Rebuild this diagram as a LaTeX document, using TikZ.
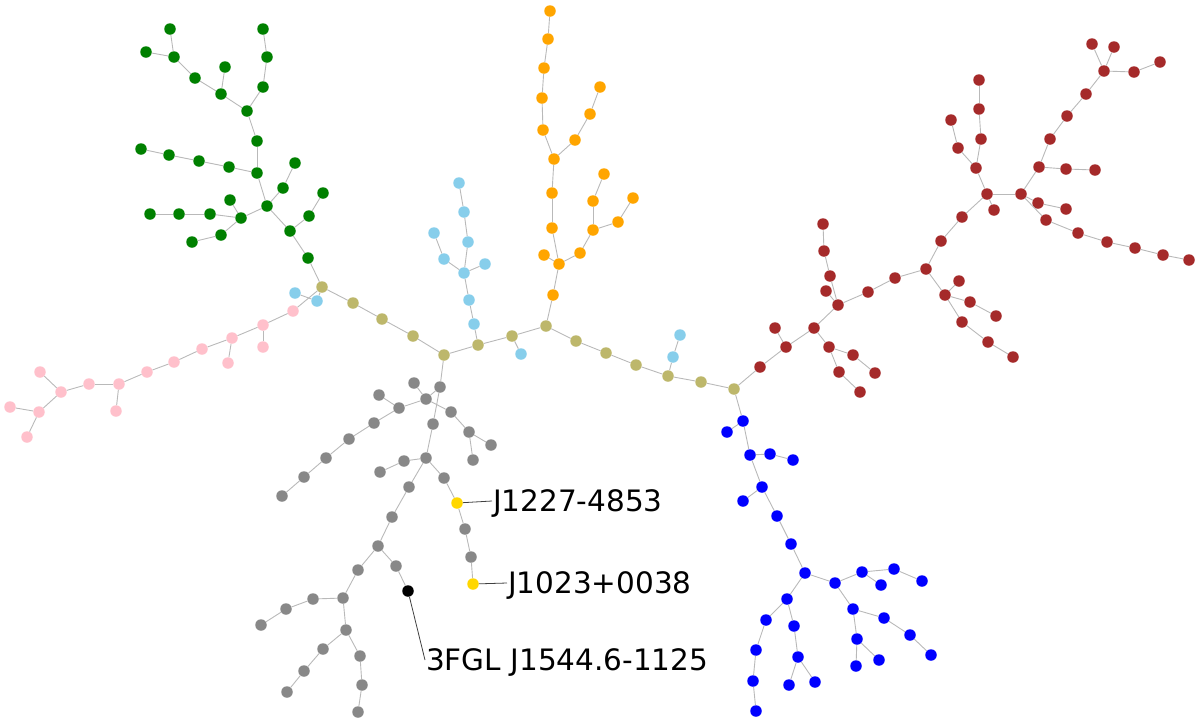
\documentclass[tikz,border=0pt]{standalone}
\usepackage{fontspec}
\setmainfont{DejaVu Sans}
\definecolor{cgreen}{RGB}{0,128,0}
\definecolor{corange}{RGB}{255,165,0}
\definecolor{cblue}{RGB}{0,0,255}
\definecolor{cbrown}{RGB}{165,42,42}
\definecolor{csky}{RGB}{135,206,235}
\definecolor{ckhaki}{RGB}{189,183,107}
\definecolor{cpink}{RGB}{255,192,203}
\definecolor{cgray}{RGB}{136,136,136}
\definecolor{cgold}{RGB}{255,215,0}
\definecolor{cedge}{RGB}{185,185,185}
\tikzset{
  vtx/.style={circle,inner sep=0pt,minimum size=11.5pt,draw=none},
  G/.style={vtx,fill=cgreen}, O/.style={vtx,fill=corange}, B/.style={vtx,fill=cblue},
  R/.style={vtx,fill=cbrown}, L/.style={vtx,fill=csky}, K/.style={vtx,fill=ckhaki},
  P/.style={vtx,fill=cpink}, A/.style={vtx,fill=cgray}, Y/.style={vtx,fill=cgold},
  X/.style={vtx,fill=black},
  edge/.style={draw=cedge,line width=0.9pt},
  lab/.style={anchor=west,inner sep=1pt,text height=21pt,text depth=0pt,font=\fontsize{29.5}{34}\selectfont},
  labline/.style={draw=black!75,line width=0.8pt}
}
\begin{document}
\begin{tikzpicture}[x=1pt,y=-1pt]
\useasboundingbox (0,0) rectangle (1200,724);
% green
\foreach \n/\x/\y in {g1/170/29,g2/146/52,g3/174/57,g4/263/29,g5/267/57,g6/195/78,g7/225/67,g8/221/94,g9/263/87,g10/247/111,g11/257/141,g12/141/149,g13/169/155,g14/199/161,g15/229/167,g16/257/173,g17/295/163,g18/283/188,g19/267/206,g20/230/200,g21/241/218,g22/150/214,g23/179/214,g24/210/214,g25/221/235,g26/192/242,g27/290/231,g28/323/193,g29/309/216,g30/308/258}
  \node[G] (\n) at (\x,\y) {};
% olive
\foreach \n/\x/\y in {k1/322/287,k2/353/303,k3/382/319,k4/413/336,k5/444/355,k6/478/345,k7/512/336,k8/546/326,k9/576/341,k10/606/353,k11/636/365,k12/668/376,k13/701/382,k14/734/389}
  \node[K] (\n) at (\x,\y) {};
% light blue
\foreach \n/\x/\y in {l1/459/183,l2/464/212,l3/468/242,l4/434/233,l5/444/259,l6/464/273,l7/485/264,l8/469/300,l9/474/324,l10/521/354,l11/673/357,l12/680/335,l13/317/301,l14/295/293}
  \node[L] (\n) at (\x,\y) {};
% orange
\foreach \n/\x/\y in {o1/550/11,o2/548/39,o3/544/68,o4/542/98,o5/543/130,o6/554/159,o7/575/140,o8/590/114,o9/600/87,o10/552/193,o11/552/228,o12/604/174,o13/593/201,o14/593/230,o15/580/253,o16/559/264,o17/544/255,o18/553/295,o19/633/198,o20/618/222}
  \node[O] (\n) at (\x,\y) {};
% pink
\foreach \n/\x/\y in {p1/293/311,p2/263/325,p3/263/347,p4/232/338,p5/228/363,p6/202/349,p7/174/362,p8/147/372,p9/119/384,p10/116/411,p11/89/384,p12/61/392,p13/40/372,p14/39/412,p15/10/407,p16/27/437}
  \node[P] (\n) at (\x,\y) {};
% gray
\foreach \n/\x/\y in {a1/440/387,a2/414/383,a3/426/399,a4/379/395,a5/399/408,a6/451/412,a7/374/423,a8/469/432,a9/491/445,a10/473/460,a11/349/439,a12/433/424,a13/326/458,a14/304/477,a15/282/496,a16/426/458,a17/404/461,a18/380/472,a19/444/478,a20/409/487,a21/392/517,a22/378/546,a23/396/566,a24/358/570,a25/343/598,a26/313/599,a27/286/609,a28/261/625,a29/346/630,a30/323/649,a31/304/671,a32/287/692,a33/360/656,a34/362/685,a35/358/712,a36/465/529,a37/471/557}
  \node[A] (\n) at (\x,\y) {};
\node[Y] (y1) at (457,503) {};
\node[Y] (y2) at (473,584) {};
\node[X] (b1) at (408,591) {};
% red
\foreach \n/\x/\y in {r1/760/367,r2/786/347,r3/775/328,r4/814/328,r5/838/305,r6/826/291,r7/830/276,r8/824/251,r9/823/224,r10/868/292,r11/895/278,r12/829/347,r13/853/355,r14/875/373,r15/839/372,r16/860/392,r17/926/269,r18/941/241,r19/945/295,r20/959/281,r21/970/302,r22/996/316,r23/962/322,r24/988/342,r25/1013/357,r26/962/217,r27/987/194,r28/994/210,r29/976/168,r30/981/139,r31/979/109,r32/979/80,r33/958/148,r34/951/120,r35/1021/194,r36/1039/167,r37/1066/169,r38/1095/170,r39/1050/139,r40/1067/116,r41/1086/94,r42/1104/71,r43/1092/44,r44/1114/47,r45/1134/72,r46/1160/62,r47/1038/203,r48/1066/209,r49/1046/220,r50/1078/233,r51/1107/242,r52/1135/248,r53/1163/255,r54/1189/260}
  \node[R] (\n) at (\x,\y) {};
% blue
\foreach \n/\x/\y in {u1/743/421,u2/727/432,u3/750/455,u4/770/454,u5/793/460,u6/762/487,u7/743/501,u8/777/516,u9/791/544,u10/805/573,u11/835/583,u12/862/572,u13/881/585,u14/894/569,u15/922/581,u16/787/599,u17/766/620,u18/794/626,u19/756/650,u20/798/657,u21/753/681,u22/789/685,u23/815/682,u24/756/711,u25/853/609,u26/884/618,u27/910/635,u28/931/655,u29/857/639,u30/879/660,u31/856/666}
  \node[B] (\n) at (\x,\y) {};
% edges
\foreach \s/\t in {g1/g3,g2/g3,g3/g6,g6/g8,g7/g8,g8/g10,g4/g5,g5/g9,g9/g10,g10/g11,g11/g16,g12/g13,g13/g14,g14/g15,g15/g16,g16/g19,g19/g18,g18/g17,g19/g21,g20/g21,g22/g23,g23/g24,g24/g21,g21/g25,g25/g26,g19/g27,g27/g29,g29/g28,g27/g30,g30/k1,
 k1/k2,k2/k3,k3/k4,k4/k5,k5/k6,k6/k7,k7/k8,k8/k9,k9/k10,k10/k11,k11/k12,k12/k13,k13/k14,
 l1/l2,l2/l3,l3/l6,l4/l5,l5/l6,l6/l7,l6/l8,l8/l9,l9/k6,k7/l10,k12/l11,l11/l12,k1/l13,l13/l14,
 o1/o2,o2/o3,o3/o4,o4/o5,o5/o6,o6/o7,o7/o8,o8/o9,o6/o10,o10/o11,o11/o16,o17/o16,o16/o18,o18/k8,o12/o13,o13/o14,o14/o15,o15/o16,o19/o20,o20/o14,
 k1/p1,p1/p2,p2/p3,p2/p4,p4/p5,p4/p6,p6/p7,p7/p8,p8/p9,p9/p10,p9/p11,p11/p12,p12/p13,p12/p14,p14/p15,p14/p16,
 k5/a1,a1/a3,a2/a3,a3/a6,a6/a8,a8/a9,a8/a10,a3/a5,a4/a5,a5/a7,a7/a11,a11/a13,a13/a14,a14/a15,a1/a12,a12/a16,a16/a17,a17/a18,a16/a19,a19/y1,y1/a36,a36/a37,a37/y2,a16/a20,a20/a21,a21/a22,a22/a23,a23/b1,a22/a24,a24/a25,a25/a26,a26/a27,a27/a28,a25/a29,a29/a30,a30/a31,a31/a32,a29/a33,a33/a34,a34/a35,
 k14/r1,r1/r2,r2/r3,r2/r4,r4/r5,r5/r6,r5/r7,r7/r8,r8/r9,r4/r12,r12/r13,r13/r14,r12/r15,r15/r16,r5/r10,r10/r11,r11/r17,r17/r18,r17/r19,r19/r20,r19/r21,r21/r22,r19/r23,r23/r24,r24/r25,r18/r26,r26/r27,r27/r28,r27/r29,r29/r30,r30/r31,r31/r32,r29/r33,r33/r34,r27/r35,r35/r36,r36/r37,r37/r38,r36/r39,r39/r40,r40/r41,r41/r42,r42/r43,r42/r44,r42/r45,r45/r46,r35/r47,r47/r48,r35/r49,r49/r50,r50/r51,r51/r52,r52/r53,r53/r54,
 k14/u1,u1/u2,u1/u3,u3/u4,u4/u5,u3/u6,u6/u7,u6/u8,u8/u9,u9/u10,u10/u11,u11/u12,u12/u13,u12/u14,u14/u15,u11/u25,u25/u26,u26/u27,u27/u28,u25/u29,u29/u30,u29/u31,u10/u16,u16/u17,u17/u19,u19/u21,u21/u24,u16/u18,u18/u20,u20/u22,u20/u23}
  \path[edge] (\s) -- (\t);
% labels
\node[lab] (t1) at (492,501) {J1227-4853};
\node[lab] (t2) at (507,583) {J1023+0038};
\node[lab] (t3) at (425,660) {3FGL J1544.6-1125};
\draw[labline] (y1) -- (t1.west);
\draw[labline] (y2) -- (t2.west);
\draw[labline] (b1) -- (t3.west);
\end{tikzpicture}
\end{document}
